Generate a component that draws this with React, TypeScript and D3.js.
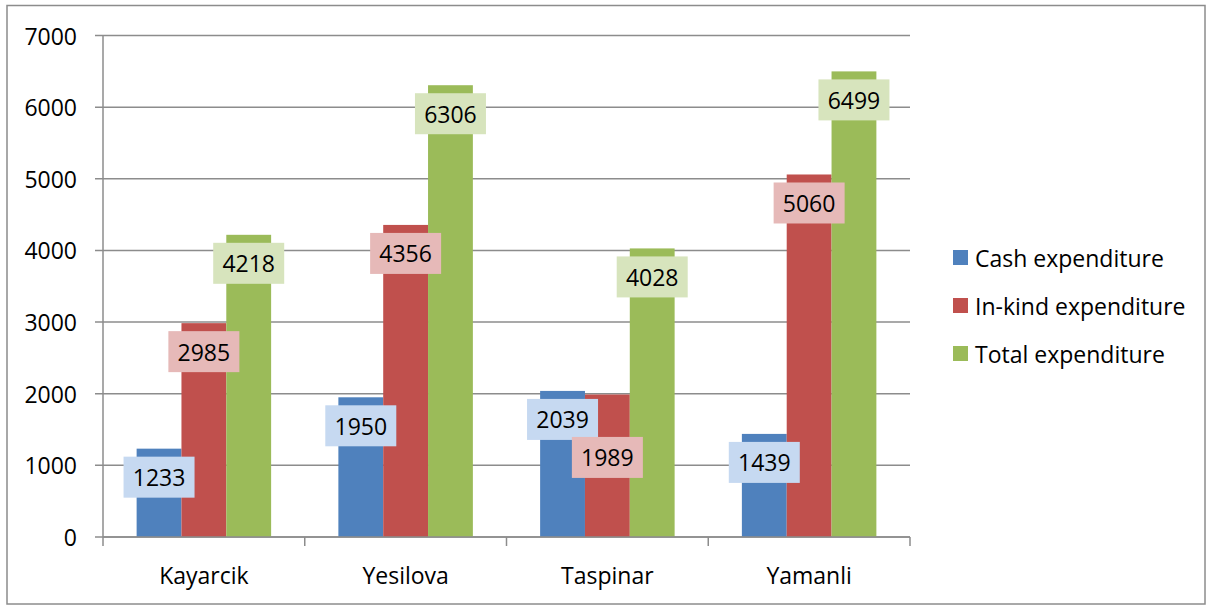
import React from "react";
import * as d3 from "d3";

const categories = ["Kayarcik", "Yesilova", "Taspinar", "Yamanli"];
const seriesNames = ["Cash expenditure", "In-kind expenditure", "Total expenditure"];
const cashValues = [1233, 1950, 2039, 1439];
const inKindValues = [2985, 4356, 1989, 5060];
const totalValues = [4218, 6306, 4028, 6499];
const yTicks = [0, 1000, 2000, 3000, 4000, 5000, 6000, 7000];
const barColors = ["#4F81BD", "#C0504D", "#9BBB59"];
const labelColors = ["#C6D9F1", "#E6B9B8", "#D7E4BD"];

const W = 1206;
const H = 605;
const FONT = "'Open Sans', 'Liberation Sans', sans-serif";
const FS = 23;

export default function App() {
  const series = [cashValues, inKindValues, totalValues];
  const left = 103;
  const right = 910;
  const top = 35.5;
  const bottom = 537;
  const x = d3.scaleBand<string>().domain(categories).range([left, right]).padding(0);
  const y = d3.scaleLinear().domain([0, 7000]).range([bottom, top]);
  const catW = x.bandwidth();
  const bw = catW / 4.5;
  const inner = d3
    .scaleBand<number>()
    .domain(d3.range(series.length))
    .range([(catW - 3 * bw) / 2, (catW + 3 * bw) / 2])
    .padding(0);

  const boxW = 71;
  const boxH = 41;
  const grid = "#8C8C8C";

  // label positions with simple collision avoidance within a group
  const labels: { x: number; y: number; v: number; s: number }[] = [];
  categories.forEach((c, ci) => {
    const group: { x: number; y: number }[] = [];
    series.forEach((vals, si) => {
      const v = vals[ci];
      const cx = (x(c) as number) + (inner(si) as number) + inner.bandwidth() / 2;
      let cy = y(v) + 28.5;
      for (const g of group) {
        if (Math.abs(g.x - cx) < boxW && Math.abs(g.y - cy) < boxH) {
          cy = g.y + 38;
        }
      }
      group.push({ x: cx, y: cy });
      labels.push({ x: cx, y: cy, v, s: si });
    });
  });

  return (
    <svg
      width={W}
      height={H}
      style={{ position: "absolute", left: 0, top: 0, background: "#fff" }}
      fontFamily={FONT}
    >
      <rect x={0} y={0} width={W} height={H} fill="#fff" />
      <rect x={7} y={5.5} width={1198} height={598.5} fill="none" stroke={grid} strokeWidth={1.5} />
      {/* gridlines */}
      {yTicks.map((t) => (
        <line key={"g" + t} x1={95} x2={right} y1={y(t)} y2={y(t)} stroke={grid} strokeWidth={1.5} />
      ))}
      {yTicks.map((t) => (
        <text
          key={"yl" + t}
          x={77}
          y={y(t)}
          textAnchor="end"
          dominantBaseline="central"
          fontSize={FS}
          fill="#000"
        >
          {t}
        </text>
      ))}
      {/* y axis */}
      <line x1={left} x2={left} y1={top} y2={bottom} stroke={grid} strokeWidth={1.5} />
      {/* bars */}
      {series.map((vals, si) =>
        vals.map((v, ci) => (
          <rect
            key={`b${si}-${ci}`}
            x={(x(categories[ci]) as number) + (inner(si) as number)}
            y={y(v)}
            width={inner.bandwidth()}
            height={bottom - y(v)}
            fill={barColors[si]}
          />
        ))
      )}
      {/* x axis */}
      <line x1={left} x2={right} y1={bottom} y2={bottom} stroke={grid} strokeWidth={1.5} />
      {categories.map((c, i) => (
        <line
          key={"xt" + i}
          x1={x(c) as number}
          x2={x(c) as number}
          y1={bottom}
          y2={546}
          stroke={grid}
          strokeWidth={1.5}
        />
      ))}
      <line x1={right} x2={right} y1={bottom} y2={546} stroke={grid} strokeWidth={1.5} />
      {categories.map((c) => (
        <text
          key={"xl" + c}
          x={(x(c) as number) + catW / 2}
          y={575}
          textAnchor="middle"
          dominantBaseline="central"
          fontSize={FS}
          fill="#000"
        >
          {c}
        </text>
      ))}
      {/* data labels */}
      {labels.map((l, i) => (
        <g key={"l" + i}>
          <rect x={l.x - boxW / 2} y={l.y - boxH / 2} width={boxW} height={boxH} fill={labelColors[l.s]} />
          <text
            x={l.x}
            y={l.y}
            textAnchor="middle"
            dominantBaseline="central"
            fontSize={FS}
            fill="#000"
          >
            {l.v}
          </text>
        </g>
      ))}
      {/* legend */}
      {seriesNames.map((n, i) => (
        <g key={"lg" + i}>
          <rect x={953} y={250 + i * 48} width={15} height={15} fill={barColors[i]} />
          <text x={975} y={257.5 + i * 48} dominantBaseline="central" fontSize={FS} fill="#000">
            {n}
          </text>
        </g>
      ))}
    </svg>
  );
}
